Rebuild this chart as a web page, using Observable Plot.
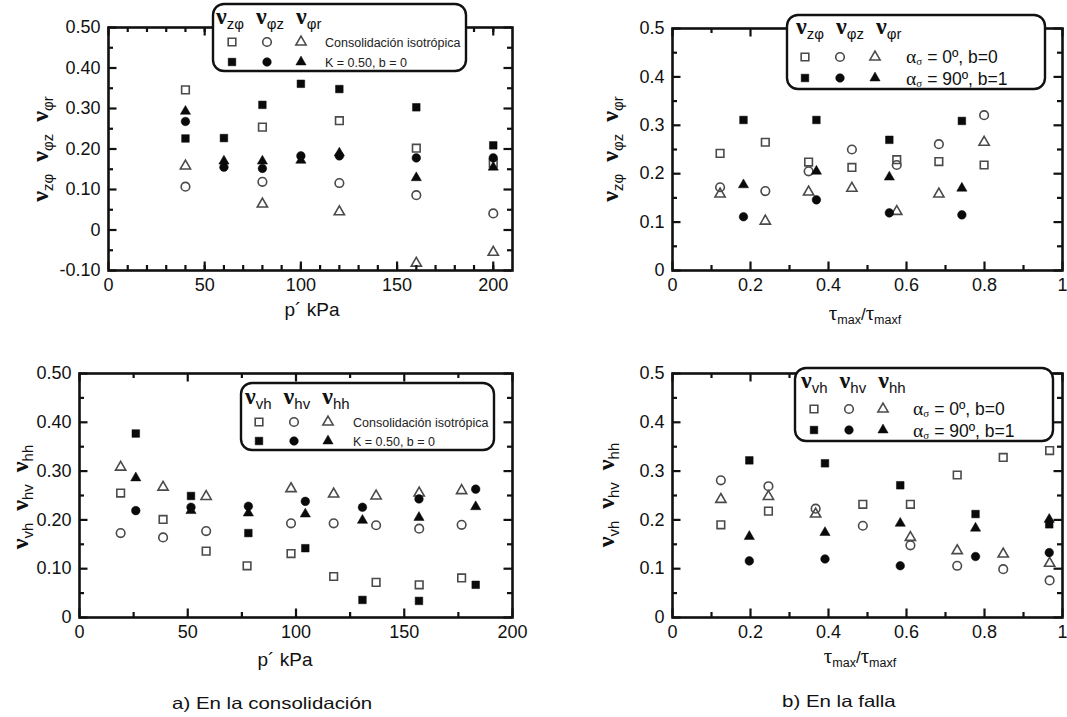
<!DOCTYPE html>
<html><head><meta charset="utf-8">
<script src="https://cdn.jsdelivr.net/npm/d3@7"></script>
<script src="https://cdn.jsdelivr.net/npm/@observablehq/plot@0.6"></script>
<style>
body{margin:0;background:#fff;}
#wrap{position:relative;width:1067px;height:717px;overflow:hidden;font-family:"Liberation Sans",Arial,sans-serif;background:#fff;}
.panel{position:absolute;}
.cap{position:absolute;font-size:16.5px;color:#111;white-space:nowrap;line-height:1;transform:scaleX(1.24);transform-origin:0 0;}
</style></head><body><div id="wrap"></div>
<script>
// ---------- Panel a) top: ν_zφ, ν_φz, ν_φr vs p' ----------
const aP = [40, 60, 80, 100, 120, 160, 200];
const aIsoVzphi = [0.346, null, 0.254, null, 0.270, 0.202, 0.165];
const aIsoVphiz = [0.107, null, 0.119, null, 0.116, 0.086, 0.041];
const aIsoVphir = [0.158, null, 0.064, null, 0.045, -0.082, -0.055];
const aKVzphi = [0.226, 0.227, 0.309, 0.361, 0.348, 0.303, 0.209];
const aKVphiz = [0.268, 0.155, 0.152, 0.183, 0.183, 0.178, 0.178];
const aKVphir = [0.293, 0.170, 0.170, 0.172, 0.190, 0.129, 0.155];

// ---------- Panel b) top: vs tau_max/tau_maxf ----------
const bX0 = [0.122, 0.238, 0.349, 0.460, 0.575, 0.683, 0.799];
const b0Vzphi = [0.242, 0.265, 0.224, 0.213, 0.229, 0.225, 0.218];
const b0Vphiz = [0.172, 0.164, 0.205, 0.250, 0.218, 0.261, 0.321];
const b0Vphir = [0.158, 0.102, 0.162, 0.170, 0.122, 0.158, 0.265];
const bX90 = [0.182, 0.369, 0.556, 0.742];
const b90Vzphi = [0.311, 0.311, 0.270, 0.309];
const b90Vphiz = [0.111, 0.146, 0.119, 0.115];
const b90Vphir = [0.177, 0.205, 0.193, 0.170];

// ---------- Panel a) bottom: ν_vh, ν_hv, ν_hh vs p' ----------
const cPIso = [19, 38.6, 58.5, 77.4, 97.7, 117.4, 137, 156.9, 176.5];
const cIsoVvh = [0.255, 0.201, 0.136, 0.106, 0.131, 0.084, 0.072, 0.067, 0.081];
const cIsoVhv = [0.173, 0.164, 0.177, null, 0.193, 0.193, 0.189, 0.182, 0.190];
const cIsoVhh = [0.308, 0.267, 0.248, null, 0.264, 0.253, 0.249, 0.255, 0.260];
const cPK = [26, 51.5, 78, 104.3, 130.7, 156.8, 183];
const cKVvh = [0.377, 0.249, 0.173, 0.142, 0.036, 0.034, 0.067];
const cKVhv = [0.219, 0.226, 0.228, 0.238, 0.226, 0.243, 0.263];
const cKVhh = [0.286, 0.219, 0.214, 0.212, 0.199, 0.205, 0.227];

// ---------- Panel b) bottom ----------
const dX0 = [0.124, 0.246, 0.367, 0.488, 0.610, 0.730, 0.848, 0.967];
const d0Vvh = [0.190, 0.218, null, 0.232, 0.232, 0.292, 0.328, 0.342];
const d0Vhv = [0.281, 0.269, 0.223, 0.188, 0.148, 0.106, 0.099, 0.076];
const d0Vhh = [0.242, 0.248, 0.212, null, 0.164, 0.137, 0.130, 0.111];
const dX90 = [0.197, 0.391, 0.584, 0.777, 0.966];
const d90Vvh = [0.322, 0.316, 0.271, 0.212, 0.191];
const d90Vhv = [0.116, 0.120, 0.106, 0.125, 0.133];
const d90Vhh = [0.166, 0.174, 0.193, 0.183, 0.201];

// tick values
const pMajorA = [0, 50, 100, 150, 200];
const pMinorA = d3.range(10, 210, 10);
const yMajorA = [-0.1, 0, 0.1, 0.2, 0.3, 0.4, 0.5];
const yMinorA = [-0.05, 0.05, 0.15, 0.25, 0.35, 0.45];
const tMajor = [0, 0.2, 0.4, 0.6, 0.8, 1];
const tMinor = [0.1, 0.3, 0.5, 0.7, 0.9];
const yMajor05 = [0, 0.1, 0.2, 0.3, 0.4, 0.5];
const yMinor05 = [0.05, 0.15, 0.25, 0.35, 0.45];
const pMajorC = [0, 50, 100, 150, 200];
const pMinorC = [25, 75, 125, 175];

// legend/label texts
const subsTop = ["zφ", "φz", "φr"];
const subsBot = ["vh", "hv", "hh"];
const legA = ["Consolidación isotrópica", "K = 0.50, b = 0"];
const legB = ["= 0º, b=0", "= 90º, b=1"];

const SANS = "Liberation Sans, Arial, sans-serif";
const SERIF = "Liberation Serif, Times New Roman, serif";
const OPEN = "#4a4a4a";
const FILL = "#0a0a0a";
const TICK = "#111";
const R = {square: 4.3, circle: 4.3, triangle: 3.8};

function rows(xs, ys) {
  return xs.map((x, i) => ({x, y: ys[i]})).filter(d => d.y != null);
}

function dots(data, symbol, filled) {
  return Plot.dot(data, filled
    ? {x: "x", y: "y", symbol, r: R[symbol], fill: FILL, stroke: FILL, strokeWidth: 0.5}
    : {x: "x", y: "y", symbol, r: R[symbol], fill: "none", stroke: OPEN, strokeWidth: 1.6});
}

function tickMarks(cfg) {
  const fw = cfg.width - cfg.ml - cfg.mr;
  const fh = cfg.height - cfg.mt - cfg.mb;
  const M = 8.5, m = 5, sw = 2.2;
  const o = {stroke: TICK, strokeWidth: sw};
  return [
    Plot.ruleX(cfg.xMaj, {x: d => d, insetTop: fh - M, ...o}),
    Plot.ruleX(cfg.xMin, {x: d => d, insetTop: fh - m, ...o}),
    Plot.ruleX(cfg.xMaj, {x: d => d, insetBottom: fh - M, ...o}),
    Plot.ruleX(cfg.xMin, {x: d => d, insetBottom: fh - m, ...o}),
    Plot.ruleY(cfg.yMaj, {y: d => d, insetRight: fw - M, ...o}),
    Plot.ruleY(cfg.yMin, {y: d => d, insetRight: fw - m, ...o}),
    Plot.ruleY(cfg.yMaj, {y: d => d, insetLeft: fw - M, ...o}),
    Plot.ruleY(cfg.yMin, {y: d => d, insetLeft: fw - m, ...o})
  ];
}

function makePanel(cfg) {
  const chart = Plot.plot({
    width: cfg.width, height: cfg.height,
    marginLeft: cfg.ml, marginRight: cfg.mr, marginTop: cfg.mt, marginBottom: cfg.mb,
    x: {domain: cfg.xDomain},
    y: {domain: cfg.yDomain},
    style: {fontFamily: SANS, fontSize: "18px", color: "#111", background: "transparent", overflow: "visible"},
    marks: [
      Plot.axisX(cfg.xMaj, {tickSize: 0, tickPadding: 8, tickFormat: cfg.xFmt, fontSize: 18, label: null}),
      Plot.axisY(cfg.yMaj, {tickSize: 0, tickPadding: 8, tickFormat: cfg.yFmt, fontSize: 18, label: null}),
      ...cfg.series.map(s => dots(s.data, s.symbol, s.filled)),
      Plot.frame({stroke: "#111", strokeWidth: 2.6}),
      ...tickMarks(cfg)
    ]
  });
  chart.classList.add("panel");
  chart.style.left = cfg.left + "px";
  chart.style.top = cfg.top + "px";
  document.getElementById("wrap").appendChild(chart);
  const svg = d3.select(chart);
  const yl = svg.append("text")
    .attr("transform", `translate(${cfg.ylx},${cfg.yly}) rotate(-90)`)
    .attr("text-anchor", "middle").attr("fill", "#111");
  nuSpans(yl, cfg.subs, 24, 15, 5);
  cfg.xLabel(svg);
  drawLegend(svg, cfg.leg);
  return chart;
}

function nuSpans(sel, subs, nuSize, subSize, shift) {
  subs.forEach((s, i) => {
    sel.append("tspan").attr("font-family", SERIF).attr("font-weight", "bold")
      .attr("font-size", nuSize).attr("dy", i === 0 ? 0 : -shift)
      .text((i === 0 ? "" : "\u2002") + "ν");
    sel.append("tspan").attr("font-family", SANS).attr("font-size", subSize)
      .attr("dy", shift).text(s);
  });
}

function drawLegend(svg, L) {
  const g = svg.append("g").attr("text-anchor", "start");
  g.append("rect").attr("x", L.x0).attr("y", L.y0)
    .attr("width", L.x1 - L.x0).attr("height", L.y1 - L.y0)
    .attr("rx", 11).attr("ry", 11)
    .attr("fill", "white").attr("stroke", "#111").attr("stroke-width", 2.4);
  const h = g.append("text").attr("x", L.hx).attr("y", L.hy).attr("fill", "#111");
  nuSpans(h, L.subs, L.nuSize, L.subSize, 5);
  const types = [["square", d3.symbolSquare], ["circle", d3.symbolCircle], ["triangle", d3.symbolTriangle]];
  [0, 1].forEach(row => {
    types.forEach(([name, type], j) => {
      const size = Math.PI * R[name] * R[name];
      g.append("path").attr("d", d3.symbol(type, size)())
        .attr("transform", `translate(${L.sx[j]},${L.rows[row]})`)
        .attr("fill", row === 1 ? FILL : "none")
        .attr("stroke", row === 1 ? FILL : OPEN)
        .attr("stroke-width", row === 1 ? 0.5 : 1.6);
    });
    L.text(g, row, L.tx, L.rows[row]);
  });
}

function tauLabel(svg, cx, by) {
  const t = svg.append("text").attr("x", cx).attr("y", by).attr("text-anchor", "middle").attr("fill", "#111");
  t.append("tspan").attr("font-family", SERIF).attr("font-size", 21).text("τ");
  t.append("tspan").attr("font-family", SANS).attr("font-size", 12.5).attr("dy", 4).text("max");
  t.append("tspan").attr("font-family", SANS).attr("font-size", 17).attr("dy", -4).text("/");
  t.append("tspan").attr("font-family", SERIF).attr("font-size", 21).text("τ");
  t.append("tspan").attr("font-family", SANS).attr("font-size", 12.5).attr("dy", 4).text("maxf");
}
function pLabel(svg, cx, by) {
  svg.append("text").attr("x", cx).attr("y", by).attr("text-anchor", "middle")
    .attr("font-family", SANS).attr("font-size", 19).attr("fill", "#111").text("p´ kPa");
}
function textSmall(g, row, x, y) {
  g.append("text").attr("x", x).attr("y", y + 4.5).attr("font-family", SANS)
    .attr("font-size", 12.5).attr("fill", "#222").text(legA[row]);
}
function textAlpha(g, row, x, y) {
  const t = g.append("text").attr("x", x).attr("y", y + (row === 0 ? 5.5 : 7)).attr("font-family", SANS)
    .attr("font-size", 17.5).attr("fill", "#111");
  t.append("tspan").attr("font-family", SERIF).attr("font-size", 19.5).text("α");
  t.append("tspan").attr("font-family", SERIF).attr("font-size", 11).attr("dy", 2).text("σ");
  t.append("tspan").attr("dy", -2).attr("dx", 5).text(legB[row]);
}

const fmt2 = d => d === 0 ? "0" : d.toFixed(2);
const fmtD = d => String(d);

makePanel({
  left: 0, top: 0, width: 534, height: 340, ml: 108, mr: 22, mt: 27, mb: 70,
  xDomain: [0, 210], yDomain: [-0.1, 0.5],
  xMaj: pMajorA, xMin: pMinorA, yMaj: yMajorA, yMin: yMinorA, xFmt: fmtD, yFmt: fmt2,
  series: [
    {data: rows(aP, aIsoVzphi), symbol: "square", filled: false},
    {data: rows(aP, aIsoVphiz), symbol: "circle", filled: false},
    {data: rows(aP, aIsoVphir), symbol: "triangle", filled: false},
    {data: rows(aP, aKVzphi), symbol: "square", filled: true},
    {data: rows(aP, aKVphiz), symbol: "circle", filled: true},
    {data: rows(aP, aKVphir), symbol: "triangle", filled: true}
  ],
  subs: subsTop, ylx: 48, yly: 149,
  xLabel: svg => pLabel(svg, 312, 316),
  leg: {x0: 213, x1: 466, y0: 4, y1: 71, hx: 216, hy: 24, subs: subsTop, nuSize: 24, subSize: 15,
        sx: [232, 267, 301], rows: [42, 62], tx: 325, text: textSmall}
});

makePanel({
  left: 534, top: 0, width: 533, height: 340, ml: 138, mr: 5, mt: 28, mb: 70,
  xDomain: [0, 1], yDomain: [0, 0.5],
  xMaj: tMajor, xMin: tMinor, yMaj: yMajor05, yMin: yMinor05, xFmt: fmtD, yFmt: fmtD,
  series: [
    {data: rows(bX0, b0Vzphi), symbol: "square", filled: false},
    {data: rows(bX0, b0Vphiz), symbol: "circle", filled: false},
    {data: rows(bX0, b0Vphir), symbol: "triangle", filled: false},
    {data: rows(bX90, b90Vzphi), symbol: "square", filled: true},
    {data: rows(bX90, b90Vphiz), symbol: "circle", filled: true},
    {data: rows(bX90, b90Vphir), symbol: "triangle", filled: true}
  ],
  subs: subsTop, ylx: 84, yly: 149,
  xLabel: svg => tauLabel(svg, 331, 320),
  leg: {x0: 253, x1: 511, y0: 15, y1: 89, hx: 262, hy: 34, subs: subsTop, nuSize: 24, subSize: 15,
        sx: [271, 306, 341], rows: [57, 78], tx: 372, text: textAlpha}
});

makePanel({
  left: 0, top: 350, width: 534, height: 340, ml: 79, mr: 22, mt: 23, mb: 73,
  xDomain: [0, 200], yDomain: [0, 0.5],
  xMaj: pMajorC, xMin: pMinorC, yMaj: yMajor05, yMin: yMinor05, xFmt: fmtD, yFmt: fmt2,
  series: [
    {data: rows(cPIso, cIsoVvh), symbol: "square", filled: false},
    {data: rows(cPIso, cIsoVhv), symbol: "circle", filled: false},
    {data: rows(cPIso, cIsoVhh), symbol: "triangle", filled: false},
    {data: rows(cPK, cKVvh), symbol: "square", filled: true},
    {data: rows(cPK, cKVhv), symbol: "circle", filled: true},
    {data: rows(cPK, cKVhh), symbol: "triangle", filled: true}
  ],
  subs: subsBot, ylx: 28, yly: 147,
  xLabel: svg => pLabel(svg, 285, 316),
  leg: {x0: 241, x1: 494, y0: 33, y1: 100, hx: 245, hy: 54, subs: subsBot, nuSize: 24, subSize: 15,
        sx: [259, 294, 328], rows: [72, 91], tx: 353, text: textSmall}
});

makePanel({
  left: 534, top: 350, width: 533, height: 340, ml: 138, mr: 5, mt: 23, mb: 73,
  xDomain: [0, 1], yDomain: [0, 0.5],
  xMaj: tMajor, xMin: tMinor, yMaj: yMajor05, yMin: yMinor05, xFmt: fmtD, yFmt: fmtD,
  series: [
    {data: rows(dX0, d0Vvh), symbol: "square", filled: false},
    {data: rows(dX0, d0Vhv), symbol: "circle", filled: false},
    {data: rows(dX0, d0Vhh), symbol: "triangle", filled: false},
    {data: rows(dX90, d90Vvh), symbol: "square", filled: true},
    {data: rows(dX90, d90Vhv), symbol: "circle", filled: true},
    {data: rows(dX90, d90Vhh), symbol: "triangle", filled: true}
  ],
  subs: subsBot, ylx: 80, yly: 145,
  xLabel: svg => tauLabel(svg, 326, 313),
  leg: {x0: 261, x1: 519, y0: 18, y1: 91, hx: 267, hy: 38, subs: subsBot, nuSize: 24, subSize: 15,
        sx: [280, 315, 349], rows: [59, 80], tx: 379, text: textAlpha}
});

// captions
const capA = document.createElement("div");
capA.className = "cap"; capA.style.left = "172px"; capA.style.top = "695px";
capA.textContent = "a) En la consolidación";
const capB = document.createElement("div");
capB.className = "cap"; capB.style.left = "782px"; capB.style.top = "693px";
capB.textContent = "b) En la falla";
document.getElementById("wrap").append(capA, capB);
</script>
</body></html>
